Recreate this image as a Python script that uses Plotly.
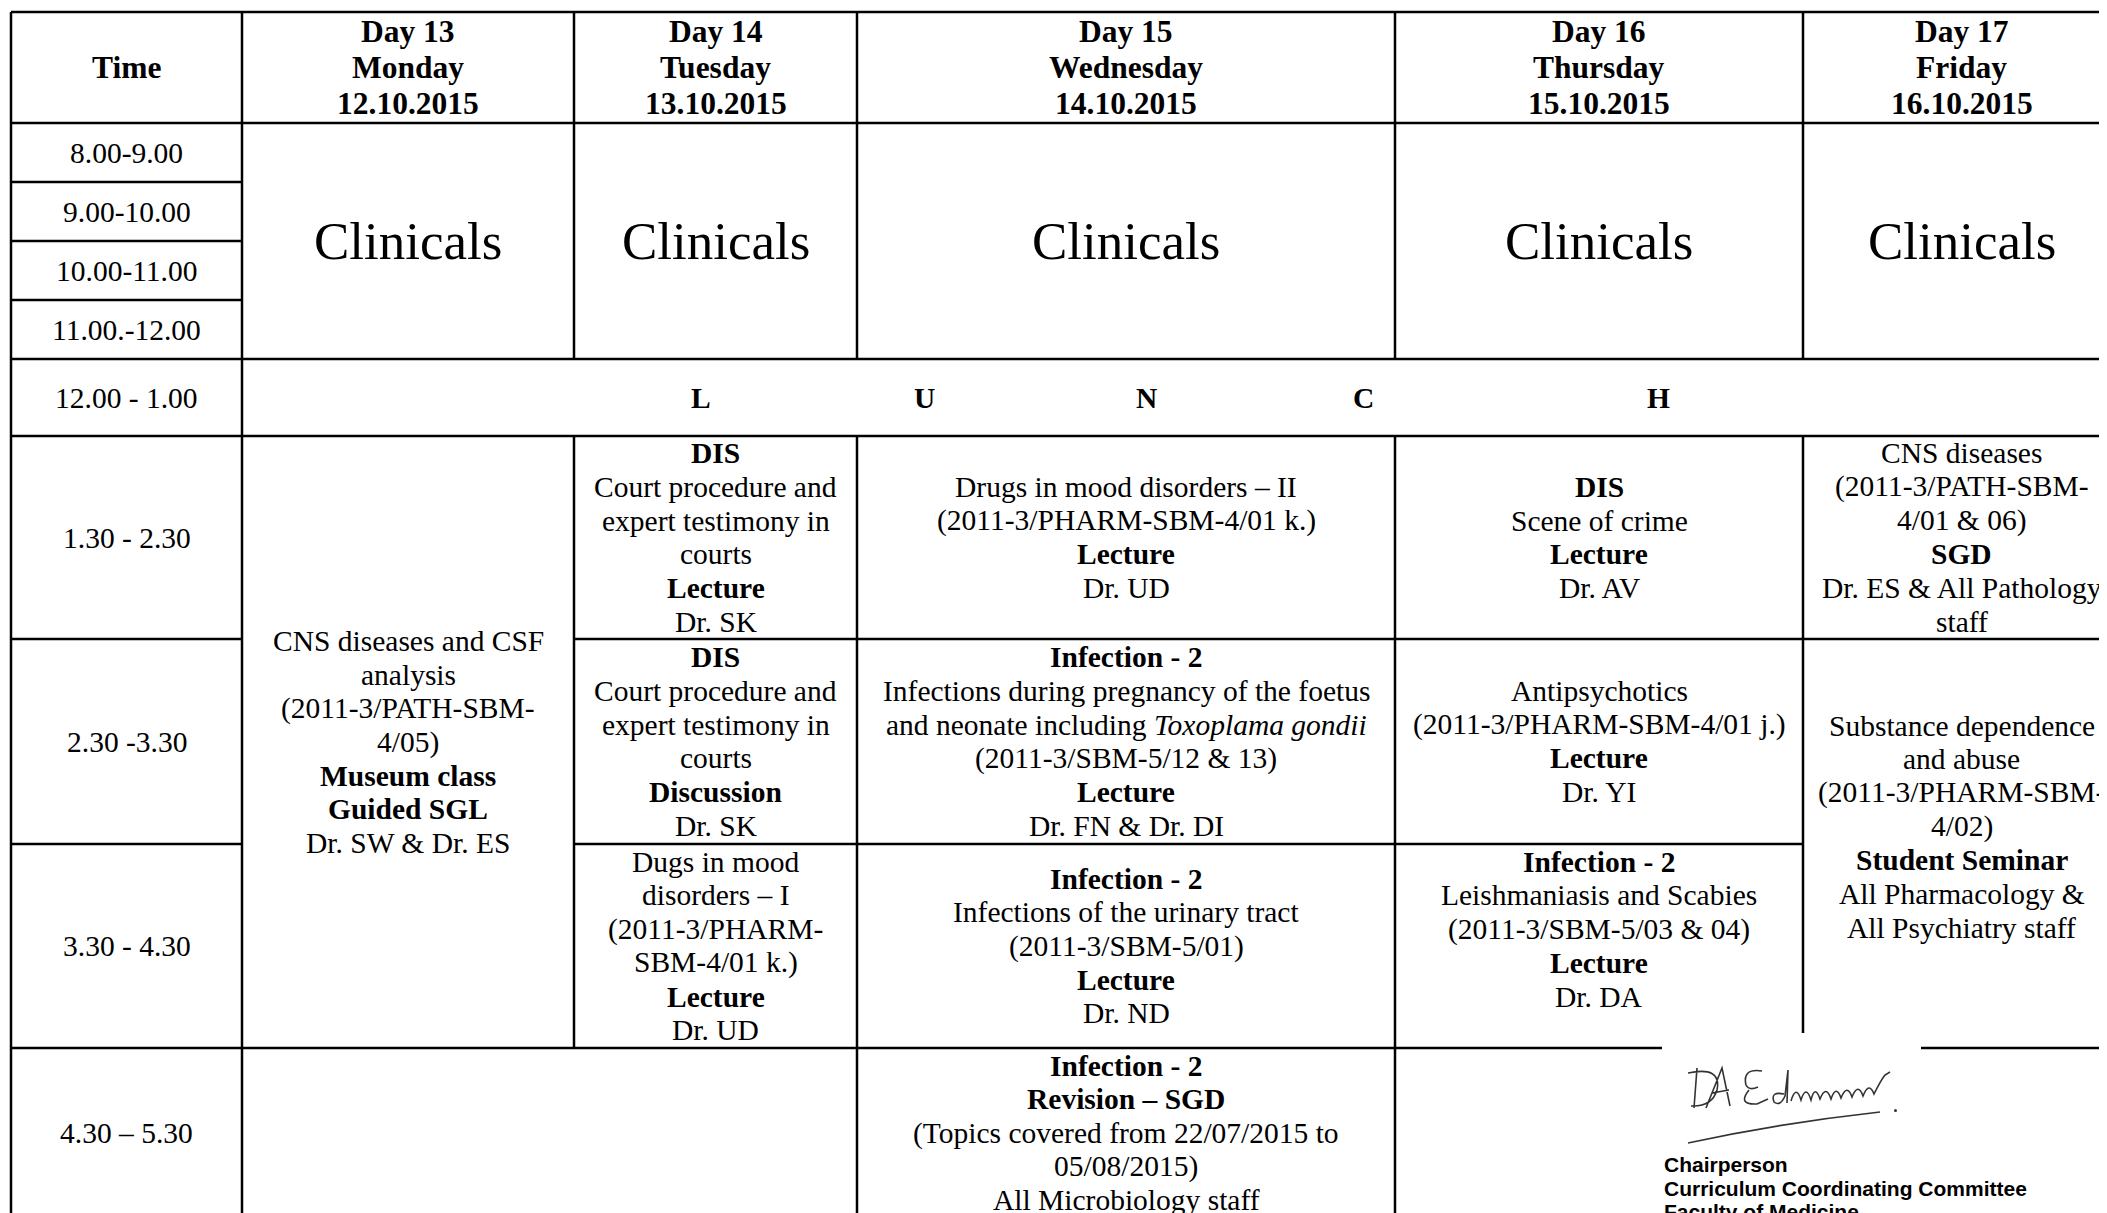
import plotly.graph_objects as go

# ---------------- data ----------------
time_header = "Time"
day_numbers = ["Day 13", "Day 14", "Day 15", "Day 16", "Day 17"]
weekdays = ["Monday", "Tuesday", "Wednesday", "Thursday", "Friday"]
dates = ["12.10.2015", "13.10.2015", "14.10.2015", "15.10.2015", "16.10.2015"]
time_slots = ["8.00-9.00", "9.00-10.00", "10.00-11.00", "11.00.-12.00", "12.00 - 1.00",
              "1.30 - 2.30", "2.30 -3.30", "3.30 - 4.30", "4.30 – 5.30"]
morning_session = "Clinicals"
lunch_letters = ["L", "U", "N", "C", "H"]

mon_afternoon = ["CNS diseases and CSF", "analysis", "(2011-3/PATH-SBM-", "4/05)",
                 "<b>Museum class</b>", "<b>Guided SGL</b>", "Dr. SW & Dr. ES"]
tue_130 = ["<b>DIS</b>", "Court procedure and", "expert testimony in", "courts", "<b>Lecture</b>", "Dr. SK"]
tue_230 = ["<b>DIS</b>", "Court procedure and", "expert testimony in", "courts", "<b>Discussion</b>", "Dr. SK"]
tue_330 = ["Dugs in mood", "disorders – I", "(2011-3/PHARM-", "SBM-4/01 k.)", "<b>Lecture</b>", "Dr. UD"]
wed_130 = ["Drugs in mood disorders – II", "(2011-3/PHARM-SBM-4/01 k.)", "<b>Lecture</b>", "Dr. UD"]
wed_230 = ["<b>Infection - 2</b>", "Infections during pregnancy of the foetus",
           "and neonate including <i>Toxoplama gondii</i>", "(2011-3/SBM-5/12 & 13)",
           "<b>Lecture</b>", "Dr. FN & Dr. DI"]
wed_330 = ["<b>Infection - 2</b>", "Infections of the urinary tract", "(2011-3/SBM-5/01)",
           "<b>Lecture</b>", "Dr. ND"]
wed_430 = ["<b>Infection - 2</b>", "<b>Revision – SGD</b>", "(Topics covered from 22/07/2015 to",
           "05/08/2015)", "All Microbiology staff"]
thu_130 = ["<b>DIS</b>", "Scene of crime", "<b>Lecture</b>", "Dr. AV"]
thu_230 = ["Antipsychotics", "(2011-3/PHARM-SBM-4/01 j.)", "<b>Lecture</b>", "Dr. YI"]
thu_330 = ["<b>Infection - 2</b>", "Leishmaniasis and Scabies", "(2011-3/SBM-5/03 & 04)",
           "<b>Lecture</b>", "Dr. DA", ""]
fri_130 = ["CNS diseases", "(2011-3/PATH-SBM-", "4/01 & 06)", "<b>SGD</b>",
           "Dr. ES & All Pathology", "staff"]
fri_230_430 = ["Substance dependence", "and abuse", "(2011-3/PHARM-SBM-", "4/02)",
               "<b>Student Seminar</b>", "All Pharmacology &", "All Psychiatry staff", ""]
signature_lines = ["Chairperson", "Curriculum Coordinating Committee", "Faculty of Medicine"]

# ---------------- layout geometry (page pixels) ----------------
W, H = 2107, 1213
PAGE_MARGIN = 8  # default body margin of the html page
col_edges = [11, 242, 574, 857, 1395, 1803, 2120]
row_edges = [12, 123, 182, 241, 300, 359, 436, 639, 844, 1048, 1218]
lunch_x = [701, 924, 1146, 1363, 1658]
SERIF = "Liberation Serif"
BODY, HEAD, BIG = 29.5, 31.5, 53
BODY_LS, HEAD_LS = 33.7, 35.6
LW = 2.5

fig = go.Figure()
annotations = []
shapes = []


def add_text(x, y, text, size, family=SERIF, xanchor="center"):
    annotations.append(dict(x=x, y=y, xref="x", yref="y", text=text, showarrow=False,
                            xanchor=xanchor, yanchor="middle",
                            font=dict(family=family, size=size, color="black")))


def add_block(lines, c0, c1, r0, r1, size=BODY, ls=BODY_LS):
    cx = (col_edges[c0] + col_edges[c1]) / 2
    cy = (row_edges[r0] + row_edges[r1]) / 2
    n = len(lines)
    for i, t in enumerate(lines):
        if t:
            add_text(cx, cy + (i - (n - 1) / 2) * ls, t, size)


# header
add_block(["<b>" + time_header + "</b>"], 0, 1, 0, 1, HEAD, HEAD_LS)
for i in range(5):
    add_block(["<b>%s</b>" % day_numbers[i], "<b>%s</b>" % weekdays[i], "<b>%s</b>" % dates[i]],
              i + 1, i + 2, 0, 1, HEAD, HEAD_LS)

# time column
for k, t in enumerate(time_slots):
    add_block([t], 0, 1, k + 1, k + 2)

# clinicals
for i in range(5):
    add_block([morning_session], i + 1, i + 2, 1, 5, BIG)

# lunch
ly = (row_edges[5] + row_edges[6]) / 2
for x, letter in zip(lunch_x, lunch_letters):
    add_text(x, ly, "<b>%s</b>" % letter, BODY)

# sessions
add_block(mon_afternoon, 1, 2, 6, 9)
add_block(tue_130, 2, 3, 6, 7)
add_block(tue_230, 2, 3, 7, 8)
add_block(tue_330, 2, 3, 8, 9)
add_block(wed_130, 3, 4, 6, 7)
add_block(wed_230, 3, 4, 7, 8)
add_block(wed_330, 3, 4, 8, 9)
add_block(wed_430, 3, 4, 9, 10)
add_block(thu_130, 4, 5, 6, 7)
add_block(thu_230, 4, 5, 7, 8)
add_block(thu_330, 4, 5, 8, 9)
add_block(fri_130, 5, 6, 6, 7)
add_block(fri_230_430, 5, 6, 7, 9)

# grid lines
def hline(y, x0, x1):
    shapes.append(dict(type="line", xref="x", yref="y", x0=x0, x1=x1, y0=y, y1=y,
                       line=dict(color="black", width=LW)))


def vline(x, y0, y1):
    shapes.append(dict(type="line", xref="x", yref="y", x0=x, x1=x, y0=y0, y1=y1,
                       line=dict(color="black", width=LW)))

R = col_edges[6]
hline(row_edges[0], col_edges[0], R)
hline(row_edges[1], col_edges[0], R)
for r in (2, 3, 4):
    hline(row_edges[r], col_edges[0], col_edges[1])
hline(row_edges[5], col_edges[0], R)
hline(row_edges[6], col_edges[0], R)
hline(row_edges[7], col_edges[0], col_edges[1])
hline(row_edges[7], col_edges[2], R)
hline(row_edges[8], col_edges[0], col_edges[1])
hline(row_edges[8], col_edges[2], col_edges[5])
sig_box = (1662, 1921, 1033)
hline(row_edges[9], col_edges[0], sig_box[0])
hline(row_edges[9], sig_box[1], R)
hline(row_edges[10], col_edges[0], R)

vline(col_edges[0], row_edges[0], row_edges[10])
vline(col_edges[1], row_edges[0], row_edges[10])
for c in (2, 3, 4, 5):
    vline(col_edges[c], row_edges[0], row_edges[5])
vline(col_edges[2], row_edges[6], row_edges[9])
vline(col_edges[3], row_edges[6], row_edges[10])
vline(col_edges[4], row_edges[6], row_edges[10])
vline(col_edges[5], row_edges[6], sig_box[2])

# signature scribble (decorative)
sig_path = ("M 1697 1068 L 1694 1108 "
            "M 1688 1073 Q 1722 1066 1717 1090 Q 1712 1107 1691 1106 "
            "M 1706 1108 L 1722 1068 L 1730 1106 M 1712 1093 L 1729 1090 "
            "M 1762 1071 Q 1742 1068 1746 1085 Q 1749 1091 1758 1087 "
            "M 1749 1090 Q 1737 1105 1757 1104 L 1768 1099 "
            "M 1784 1094 Q 1770 1091 1774 1102 Q 1780 1107 1785 1096 L 1788 1070 L 1787 1103 "
            "M 1791 1101 Q 1796 1084 1801 1100 Q 1806 1084 1811 1100 Q 1815 1084 1820 1099 "
            "Q 1826 1084 1831 1099 Q 1836 1084 1841 1098 Q 1847 1083 1852 1097 "
            "Q 1858 1082 1863 1096 Q 1869 1081 1874 1094 Q 1881 1080 1885 1075 L 1890 1072 "
            "M 1688 1143 Q 1780 1123 1880 1112")
shapes.append(dict(type="path", xref="x", yref="y", path=sig_path,
                   line=dict(color="#333333", width=1.6)))
shapes.append(dict(type="circle", xref="x", yref="y", x0=1894, x1=1897, y0=1109, y1=1112,
                   fillcolor="#333333", line=dict(width=0)))

sig_y = [1164, 1188, 1211]
for y, t in zip(sig_y, signature_lines):
    add_text(1662, y, "<b>%s</b>" % t, 21, family="Liberation Sans", xanchor="left")

# the figure sits 8px inside the page; map data units to page pixels
fig.update_layout(
    width=W - PAGE_MARGIN, height=H - PAGE_MARGIN,
    margin=dict(l=0, r=0, t=0, b=0),
    paper_bgcolor="white", plot_bgcolor="white",
    xaxis=dict(range=[PAGE_MARGIN, W], visible=False, fixedrange=True),
    yaxis=dict(range=[H, PAGE_MARGIN], visible=False, fixedrange=True),
    annotations=annotations, shapes=shapes, showlegend=False,
)
fig.write_html("out.html", config={"displayModeBar": False})
